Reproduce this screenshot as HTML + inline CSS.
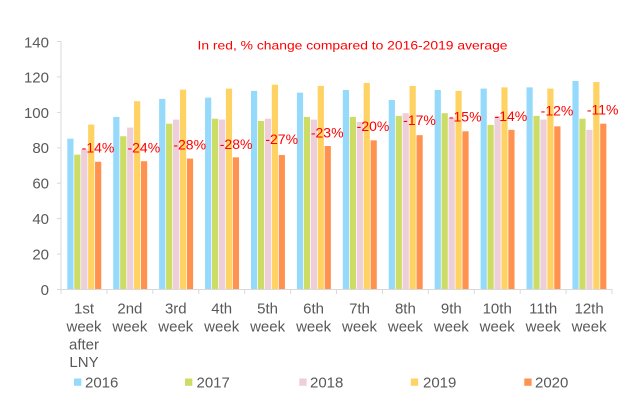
<!DOCTYPE html>
<html><head><meta charset="utf-8"><style>
html,body{margin:0;padding:0;background:#fff;}
svg{display:block;}
text{font-family:"Liberation Sans",Arial,sans-serif;}
</style></head><body>
<svg width="631" height="401" viewBox="0 0 631 401" xmlns="http://www.w3.org/2000/svg">
<rect width="631" height="401" fill="#fff"/>
<!-- bars -->
<g transform="translate(0,289.3) scale(1,-1.7714)">
 <g transform="translate(61,0)">
  <rect x="6.3" y="0" width="6.2" height="85" fill="#95DAFA"/><rect x="13.24" y="0" width="6.2" height="76" fill="#CCDC64"/><rect x="20.18" y="0" width="6.2" height="79" fill="#EECED8"/><rect x="27.12" y="0" width="6.2" height="93" fill="#FFD264"/><rect x="34.06" y="0" width="6.2" height="72" fill="#FF924F"/>
 </g>
 <g transform="translate(106.92,0)">
  <rect x="6.3" y="0" width="6.2" height="97.3" fill="#95DAFA"/><rect x="13.24" y="0" width="6.2" height="86.4" fill="#CCDC64"/><rect x="20.18" y="0" width="6.2" height="91.3" fill="#EECED8"/><rect x="27.12" y="0" width="6.2" height="106.2" fill="#FFD264"/><rect x="34.06" y="0" width="6.2" height="72.3" fill="#FF924F"/>
 </g>
 <g transform="translate(152.84,0)">
  <rect x="6.3" y="0" width="6.2" height="107.5" fill="#95DAFA"/><rect x="13.24" y="0" width="6.2" height="93.5" fill="#CCDC64"/><rect x="20.18" y="0" width="6.2" height="95.8" fill="#EECED8"/><rect x="27.12" y="0" width="6.2" height="112.7" fill="#FFD264"/><rect x="34.06" y="0" width="6.2" height="73.8" fill="#FF924F"/>
 </g>
 <g transform="translate(198.76,0)">
  <rect x="6.3" y="0" width="6.2" height="108.2" fill="#95DAFA"/><rect x="13.24" y="0" width="6.2" height="96.3" fill="#CCDC64"/><rect x="20.18" y="0" width="6.2" height="95.8" fill="#EECED8"/><rect x="27.12" y="0" width="6.2" height="113.3" fill="#FFD264"/><rect x="34.06" y="0" width="6.2" height="74.5" fill="#FF924F"/>
 </g>
 <g transform="translate(244.68,0)">
  <rect x="6.3" y="0" width="6.2" height="112" fill="#95DAFA"/><rect x="13.24" y="0" width="6.2" height="95" fill="#CCDC64"/><rect x="20.18" y="0" width="6.2" height="96.3" fill="#EECED8"/><rect x="27.12" y="0" width="6.2" height="115.5" fill="#FFD264"/><rect x="34.06" y="0" width="6.2" height="75.8" fill="#FF924F"/>
 </g>
 <g transform="translate(290.6,0)">
  <rect x="6.3" y="0" width="6.2" height="111" fill="#95DAFA"/><rect x="13.24" y="0" width="6.2" height="97.3" fill="#CCDC64"/><rect x="20.18" y="0" width="6.2" height="95.8" fill="#EECED8"/><rect x="27.12" y="0" width="6.2" height="114.8" fill="#FFD264"/><rect x="34.06" y="0" width="6.2" height="80.9" fill="#FF924F"/>
 </g>
 <g transform="translate(336.52,0)">
  <rect x="6.3" y="0" width="6.2" height="112.5" fill="#95DAFA"/><rect x="13.24" y="0" width="6.2" height="97.3" fill="#CCDC64"/><rect x="20.18" y="0" width="6.2" height="94.5" fill="#EECED8"/><rect x="27.12" y="0" width="6.2" height="116.5" fill="#FFD264"/><rect x="34.06" y="0" width="6.2" height="84.1" fill="#FF924F"/>
 </g>
 <g transform="translate(382.44,0)">
  <rect x="6.3" y="0" width="6.2" height="106.9" fill="#95DAFA"/><rect x="13.24" y="0" width="6.2" height="97.9" fill="#CCDC64"/><rect x="20.18" y="0" width="6.2" height="99.4" fill="#EECED8"/><rect x="27.12" y="0" width="6.2" height="114.8" fill="#FFD264"/><rect x="34.06" y="0" width="6.2" height="87" fill="#FF924F"/>
 </g>
 <g transform="translate(428.36,0)">
  <rect x="6.3" y="0" width="6.2" height="112.5" fill="#95DAFA"/><rect x="13.24" y="0" width="6.2" height="99.4" fill="#CCDC64"/><rect x="20.18" y="0" width="6.2" height="96.9" fill="#EECED8"/><rect x="27.12" y="0" width="6.2" height="112" fill="#FFD264"/><rect x="34.06" y="0" width="6.2" height="89.2" fill="#FF924F"/>
 </g>
 <g transform="translate(474.28,0)">
  <rect x="6.3" y="0" width="6.2" height="113.3" fill="#95DAFA"/><rect x="13.24" y="0" width="6.2" height="92.8" fill="#CCDC64"/><rect x="20.18" y="0" width="6.2" height="97.9" fill="#EECED8"/><rect x="27.12" y="0" width="6.2" height="114" fill="#FFD264"/><rect x="34.06" y="0" width="6.2" height="90" fill="#FF924F"/>
 </g>
 <g transform="translate(520.2,0)">
  <rect x="6.3" y="0" width="6.2" height="114" fill="#95DAFA"/><rect x="13.24" y="0" width="6.2" height="97.9" fill="#CCDC64"/><rect x="20.18" y="0" width="6.2" height="95.8" fill="#EECED8"/><rect x="27.12" y="0" width="6.2" height="113.3" fill="#FFD264"/><rect x="34.06" y="0" width="6.2" height="92" fill="#FF924F"/>
 </g>
 <g transform="translate(566.12,0)">
  <rect x="6.3" y="0" width="6.2" height="117.6" fill="#95DAFA"/><rect x="13.24" y="0" width="6.2" height="96.3" fill="#CCDC64"/><rect x="20.18" y="0" width="6.2" height="90" fill="#EECED8"/><rect x="27.12" y="0" width="6.2" height="117" fill="#FFD264"/><rect x="34.06" y="0" width="6.2" height="93.5" fill="#FF924F"/>
 </g>
</g>
<!-- axes -->
<g stroke="#d9d9d9" stroke-width="1" fill="none">
 <line x1="61" y1="41" x2="61" y2="289.5"/>
 <line x1="57" y1="289.5" x2="612" y2="289.5"/>
 <line x1="57" y1="41.5" x2="61" y2="41.5"/>
 <line x1="57" y1="76.9" x2="61" y2="76.9"/>
 <line x1="57" y1="112.4" x2="61" y2="112.4"/>
 <line x1="57" y1="147.8" x2="61" y2="147.8"/>
 <line x1="57" y1="183.2" x2="61" y2="183.2"/>
 <line x1="57" y1="218.6" x2="61" y2="218.6"/>
 <line x1="57" y1="254.1" x2="61" y2="254.1"/>
 <line x1="61" y1="289" x2="61" y2="294"/>
 <line x1="106.92" y1="289" x2="106.92" y2="294"/>
 <line x1="152.84" y1="289" x2="152.84" y2="294"/>
 <line x1="198.76" y1="289" x2="198.76" y2="294"/>
 <line x1="244.68" y1="289" x2="244.68" y2="294"/>
 <line x1="290.6" y1="289" x2="290.6" y2="294"/>
 <line x1="336.52" y1="289" x2="336.52" y2="294"/>
 <line x1="382.44" y1="289" x2="382.44" y2="294"/>
 <line x1="428.36" y1="289" x2="428.36" y2="294"/>
 <line x1="474.28" y1="289" x2="474.28" y2="294"/>
 <line x1="520.2" y1="289" x2="520.2" y2="294"/>
 <line x1="566.12" y1="289" x2="566.12" y2="294"/>
 <line x1="612" y1="289" x2="612" y2="294"/>
</g>
<!-- y labels -->
<g fill="#595959" font-size="15" text-anchor="end">
 <text x="49" y="47.5">140</text>
 <text x="49" y="82.5">120</text>
 <text x="49" y="118">100</text>
 <text x="49" y="153">80</text>
 <text x="49" y="188.5">60</text>
 <text x="49" y="224">40</text>
 <text x="49" y="259.5">20</text>
 <text x="49" y="295">0</text>
</g>
<!-- x labels -->
<g fill="#595959" font-size="15" text-anchor="middle">
 <text x="84" y="313.3">1st</text><text x="84" y="331.5">week</text><text x="84" y="349.5">after</text><text x="84" y="367">LNY</text>
 <text x="129.9" y="313.3">2nd</text><text x="129.9" y="331.5">week</text>
 <text x="175.8" y="313.3">3rd</text><text x="175.8" y="331.5">week</text>
 <text x="221.7" y="313.3">4th</text><text x="221.7" y="331.5">week</text>
 <text x="267.6" y="313.3">5th</text><text x="267.6" y="331.5">week</text>
 <text x="313.6" y="313.3">6th</text><text x="313.6" y="331.5">week</text>
 <text x="359.5" y="313.3">7th</text><text x="359.5" y="331.5">week</text>
 <text x="405.4" y="313.3">8th</text><text x="405.4" y="331.5">week</text>
 <text x="451.3" y="313.3">9th</text><text x="451.3" y="331.5">week</text>
 <text x="497.2" y="313.3">10th</text><text x="497.2" y="331.5">week</text>
 <text x="543.2" y="313.3">11th</text><text x="543.2" y="331.5">week</text>
 <text x="589.1" y="313.3">12th</text><text x="589.1" y="331.5">week</text>
</g>
<!-- percentage labels -->
<g fill="#ff0000" font-size="14" text-anchor="middle">
 <text x="98" y="152.7">-14%</text>
 <text x="143.8" y="152.7">-24%</text>
 <text x="189.7" y="149.3">-28%</text>
 <text x="236.1" y="149">-28%</text>
 <text x="281.7" y="144">-27%</text>
 <text x="327.2" y="137.3">-23%</text>
 <text x="373" y="131">-20%</text>
 <text x="419.5" y="125">-17%</text>
 <text x="465.2" y="121.7">-15%</text>
 <text x="510.9" y="121">-14%</text>
 <text x="557" y="115.7">-12%</text>
 <text x="602.7" y="114.3">-11%</text>
</g>
<!-- title -->
<text x="197.5" y="49.3" font-size="12" fill="#ff0000" textLength="310" lengthAdjust="spacingAndGlyphs">In red, % change compared to 2016-2019 average</text>
<!-- legend -->
<g font-size="15" fill="#595959">
 <rect x="74" y="378.5" width="7.3" height="7.3" fill="#95DAFA"/><text x="85" y="387.3">2016</text>
 <rect x="185" y="378.5" width="7.3" height="7.3" fill="#CCDC64"/><text x="196.5" y="387.3">2017</text>
 <rect x="299.3" y="378.5" width="7.3" height="7.3" fill="#EECED8"/><text x="310" y="387.3">2018</text>
 <rect x="410.8" y="378.5" width="7.3" height="7.3" fill="#FFD264"/><text x="423" y="387.3">2019</text>
 <rect x="524.3" y="378.5" width="7.3" height="7.3" fill="#FF924F"/><text x="535" y="387.3">2020</text>
</g>
</svg>
</body></html>
